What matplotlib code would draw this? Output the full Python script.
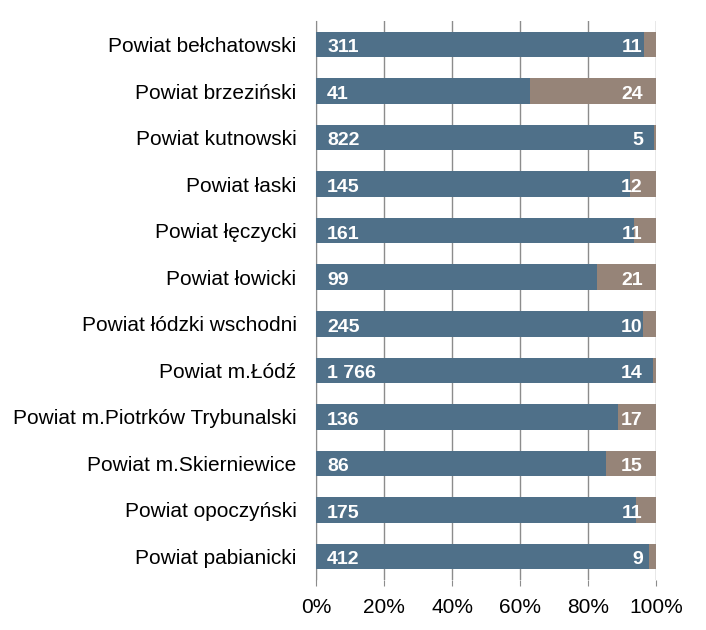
import matplotlib
matplotlib.use("Agg")
import matplotlib.pyplot as plt
import numpy as np

plt.rcParams['font.family'] = ['Liberation Sans', 'DejaVu Sans']

powiaty = ["Powiat bełchatowski", "Powiat brzeziński", "Powiat kutnowski",
           "Powiat łaski", "Powiat łęczycki", "Powiat łowicki",
           "Powiat łódzki wschodni", "Powiat m.Łódź",
           "Powiat m.Piotrków Trybunalski", "Powiat m.Skierniewice",
           "Powiat opoczyński", "Powiat pabianicki"]
seria1 = [311, 41, 822, 145, 161, 99, 245, 1766, 136, 86, 175, 412]
seria2 = [11, 24, 5, 12, 11, 21, 10, 14, 17, 15, 11, 9]
etykiety1 = ["311", "41", "822", "145", "161", "99", "245", "1 766", "136", "86", "175", "412"]

blue = "#4f7089"
brown = "#968478"
grid = "#8c8c8c"

a = np.array(seria1, dtype=float)
b = np.array(seria2, dtype=float)
tot = a + b
pa = a / tot
pb = b / tot
y = np.arange(len(powiaty))

fig = plt.figure(figsize=(7.06, 6.30), dpi=100)
ax = fig.add_axes([0.4476, 0.0797, 0.4816, 0.8866])

ax.barh(y, pa, height=0.55, color=blue, zorder=3)
ax.barh(y, pb, left=pa, height=0.55, color=brown, zorder=3)

for i in range(len(powiaty)):
    ax.annotate(etykiety1[i], (0, y[i]), xytext=(8, -1), textcoords="offset points",
                ha="left", va="center_baseline", color="white", fontsize=14,
                fontweight="bold", zorder=4)
    ax.annotate(str(seria2[i]), (1, y[i]), xytext=(-9.5, -1), textcoords="offset points",
                ha="right", va="center_baseline", color="white", fontsize=14,
                fontweight="bold", zorder=4)

ax.set_xlim(0, 1)
ax.set_ylim(len(powiaty) - 0.5, -0.5)
ax.set_yticks(y)
ax.set_yticklabels(powiaty, fontsize=15)
ax.set_xticks([0, 0.2, 0.4, 0.6, 0.8, 1.0])
ax.set_xticklabels(["0%", "20%", "40%", "60%", "80%", "100%"], fontsize=15)
ax.tick_params(axis="y", length=0, pad=14)
ax.tick_params(axis="x", length=4, color=grid, pad=9)
ax.xaxis.grid(True, color=grid, linewidth=1, zorder=0)
for s in ["top", "right", "bottom"]:
    ax.spines[s].set_visible(False)
ax.spines["left"].set_color(grid)

fig.savefig("out.png", dpi=100)
